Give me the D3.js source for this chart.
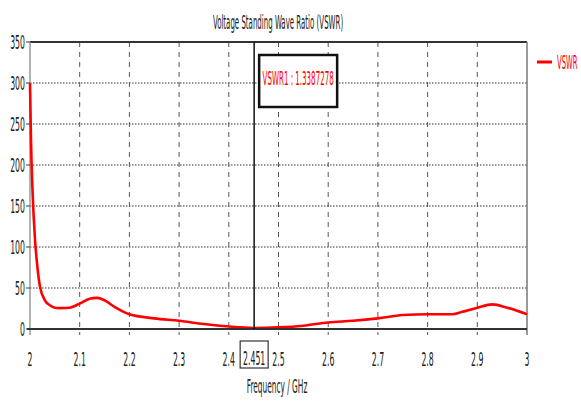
<!DOCTYPE html>
<html>
<head>
<meta charset="utf-8">
<title>VSWR</title>
<script src="https://d3js.org/d3.v7.min.js"></script>
<style>
    body { margin: 0; background: #fff; overflow: hidden; }
    text { font-family: "DejaVu Sans", Verdana, sans-serif; fill: #222; }
</style>
</head>
<body>
<div id="chart"></div>
<script>
// frequency (GHz) and VSWR
const freq = [2.0, 2.002, 2.005, 2.01, 2.015, 2.02, 2.03, 2.04, 2.05, 2.06, 2.08, 2.1, 2.12, 2.135, 2.15, 2.17, 2.2, 2.25, 2.3, 2.35, 2.4, 2.45, 2.5, 2.55, 2.6, 2.65, 2.7, 2.75, 2.8, 2.85, 2.87, 2.9, 2.93, 2.96, 3.0];
const vswr = [300, 230, 170, 110, 75, 52, 35, 29, 26, 25.5, 26, 31, 37, 38, 35, 27, 18, 13, 10, 6, 3, 1.3, 2, 4, 8, 10, 13, 17, 18, 18, 21, 26, 30, 26, 18];
const xTicks = [2, 2.1, 2.2, 2.3, 2.4, 2.5, 2.6, 2.7, 2.8, 2.9, 3];
const yTicks = [0, 50, 100, 150, 200, 250, 300, 350];
const markerFreq = 2.451;
const markerLabel = "VSWR1 : 1.3387278";
const title = "Voltage Standing Wave Ratio (VSWR)";
const xTitle = "Frequency / GHz";
const seriesName = "VSWR";

const W = 581, H = 402;
const m = { left: 30, right: 54, top: 42, bottom: 73 };
const SX = 0.37;

const svg = d3.select("#chart").append("svg").attr("width", W).attr("height", H);

const x = d3.scaleLinear().domain([2, 3]).range([m.left, W - m.right]);
const y = d3.scaleLinear().domain([0, 350]).range([H - m.bottom, m.top]);

function squeezed(g, tx, ty, str, anchor, size, color, sx) {
    return g.append("text")
        .attr("transform", `translate(${tx},${ty}) scale(${sx || SX},1)`)
        .attr("text-anchor", anchor)
        .attr("font-size", size)
        .style("fill", color || "#222")
        .text(str);
}

// grid
svg.append("g").selectAll("line")
    .data(yTicks.filter(d => d > 0 && d < 350))
    .enter().append("line")
    .attr("x1", x(2)).attr("x2", x(3))
    .attr("y1", d => y(d)).attr("y2", d => y(d))
    .attr("stroke", "#333").attr("stroke-width", 1.2)
    .attr("stroke-dasharray", "1.5,1.5");

svg.append("g").selectAll("line")
    .data(xTicks.filter(d => d > 2 && d < 3))
    .enter().append("line")
    .attr("x1", d => x(d)).attr("x2", d => x(d))
    .attr("y1", y(350)).attr("y2", y(0) + 6)
    .attr("stroke", "#555").attr("stroke-width", 1)
    .attr("stroke-dasharray", "5,5");

// frame
svg.append("line").attr("x1", x(2)).attr("x2", x(3)).attr("y1", y(350)).attr("y2", y(350))
    .attr("stroke", "#333").attr("stroke-width", 2);
svg.append("line").attr("x1", x(3)).attr("x2", x(3)).attr("y1", y(350)).attr("y2", y(0) + 6)
    .attr("stroke", "#777").attr("stroke-width", 1.5);
svg.append("line").attr("x1", x(2)).attr("x2", x(2)).attr("y1", y(350)).attr("y2", y(0) + 6)
    .attr("stroke", "#999").attr("stroke-width", 1.5);

// y axis ticks + labels
const yAx = svg.append("g");
yAx.selectAll("line").data(yTicks).enter().append("line")
    .attr("x1", x(2) - 4).attr("x2", x(2))
    .attr("y1", d => y(d)).attr("y2", d => y(d))
    .attr("stroke", "#555").attr("stroke-width", 1.2);
yTicks.forEach(d => squeezed(yAx, x(2) - 5, y(d) + 7, d, "end", 20, null, 0.39));

// x labels
const xAx = svg.append("g");
xTicks.forEach(d => squeezed(xAx, x(d), y(0) + 37, d, "middle", 20, null, 0.39));

// curve
const line = d3.line()
    .x((d, i) => x(freq[i]))
    .y(d => y(d))
    .curve(d3.curveMonotoneX);
svg.append("path").datum(vswr)
    .attr("d", line)
    .attr("fill", "none")
    .attr("stroke", "#f00")
    .attr("stroke-width", 2.6);

// bottom axis on top of curve
svg.append("line").attr("x1", x(2) - 3).attr("x2", x(3)).attr("y1", y(0)).attr("y2", y(0))
    .attr("stroke", "#333").attr("stroke-width", 2);

// marker
const mx = x(markerFreq);
svg.append("line").attr("x1", mx).attr("x2", mx).attr("y1", y(350)).attr("y2", y(0))
    .attr("stroke", "#111").attr("stroke-width", 1.5);
svg.append("rect").attr("x", mx + 5).attr("y", 55).attr("width", 78).attr("height", 52)
    .attr("fill", "#fff").attr("stroke", "#111").attr("stroke-width", 2.5);
squeezed(svg, mx + 44, 85, markerLabel, "middle", 20, "#f00", 0.355);

svg.append("rect").attr("x", mx - 14).attr("y", 341).attr("width", 28).attr("height", 27)
    .attr("fill", "#fff").attr("stroke", "#333").attr("stroke-width", 1.2);
squeezed(svg, mx, 365, markerFreq, "middle", 20, null, 0.39);

// titles
squeezed(svg, 278, 29, title, "middle", 19.5, null, 0.36);
squeezed(svg, 277, 393, xTitle, "middle", 20, null, 0.37);

// legend
svg.append("line").attr("x1", 537).attr("x2", 552).attr("y1", 62).attr("y2", 62)
    .attr("stroke", "#f00").attr("stroke-width", 3);
squeezed(svg, 557, 69, seriesName, "start", 19, "#f00", 0.36);
</script>
</body>
</html>
